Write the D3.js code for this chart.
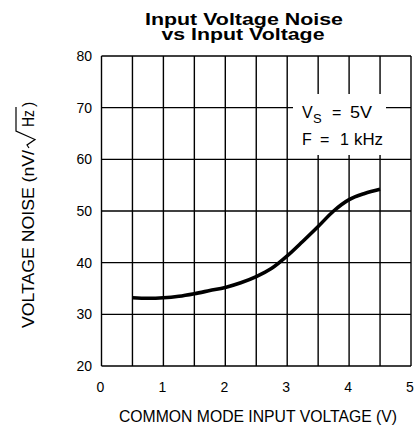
<!DOCTYPE html>
<html><head><meta charset="utf-8">
<script src="https://cdn.jsdelivr.net/npm/d3@7"></script>
<style>body{margin:0;background:#fff}svg{display:block}text{font-family:"Liberation Sans",Arial,sans-serif;fill:#000}</style>
</head><body><svg id="c" width="417" height="431"></svg>
<script>
const titleLines = ["Input Voltage Noise", "vs Input Voltage"];
const xLabel = "COMMON MODE INPUT VOLTAGE (V)";
const yLabelMain = "VOLTAGE NOISE (nV/";
const yLabelUnit = "Hz";
const xTicks = [0, 1, 2, 3, 4, 5];
const yTicks = [20, 30, 40, 50, 60, 70, 80];
const xGrid = [0, 0.5, 1, 1.5, 2, 2.5, 3, 3.5, 4, 4.5, 5];
const cmVoltage = [0.5, 0.75, 1, 1.25, 1.5, 1.75, 2, 2.25, 2.5, 2.75, 3, 3.25, 3.5, 3.75, 4, 4.25, 4.5];
const noise =     [33.2, 33.1, 33.2, 33.5, 34.0, 34.6, 35.2, 36.1, 37.3, 38.9, 41.3, 44.1, 47.0, 50.0, 52.2, 53.4, 54.2];

const svg = d3.select("#c");
const L = 101.5, R = 411, T = 56, B = 366;
const x = d3.scaleLinear().domain([0, 5]).range([L, R]);
const y = d3.scaleLinear().domain([20, 80]).range([B, T]);

// title (one text, two lines)
const tt = svg.append("text").attr("text-anchor", "middle").attr("font-weight", "bold").attr("font-size", 17);
tt.append("tspan").attr("x", 244).attr("y", 24.5).attr("textLength", 198).attr("lengthAdjust", "spacingAndGlyphs").text(titleLines[0]);
tt.append("tspan").attr("x", 243).attr("y", 40).attr("textLength", 163).attr("lengthAdjust", "spacingAndGlyphs").text(titleLines[1]);

// grid
const g = svg.append("g").attr("stroke", "#000").attr("stroke-width", 1.4);
xGrid.forEach(v => g.append("line").attr("x1", x(v)).attr("x2", x(v)).attr("y1", T).attr("y2", B));
yTicks.forEach(v => g.append("line").attr("x1", L).attr("x2", R).attr("y1", y(v)).attr("y2", y(v)));

// annotation box (white background over grid)
const bx0 = 293, bx1 = 386, by0 = 94, by1 = 155;
svg.append("rect").attr("x", bx0).attr("y", by0).attr("width", bx1 - bx0).attr("height", by1 - by0).attr("fill", "#fff");
const ann = svg.append("g").attr("font-size", 16);
ann.append("text").attr("x", 302).attr("y", 117.5).text("V");
ann.append("text").attr("x", 313).attr("y", 123).attr("font-size", 13).text("S");
ann.append("text").attr("x", 332).attr("y", 117.5).text("=");
ann.append("text").attr("x", 350).attr("y", 117.5).attr("textLength", 22).attr("lengthAdjust", "spacingAndGlyphs").text("5V");
ann.append("text").attr("x", 302).attr("y", 144.5).text("F");
ann.append("text").attr("x", 320).attr("y", 144.5).text("=");
ann.append("text").attr("x", 340).attr("y", 144.5).attr("textLength", 9).text("1");
ann.append("text").attr("x", 354).attr("y", 144.5).attr("textLength", 29).attr("lengthAdjust", "spacingAndGlyphs").text("kHz");

// curve
const line = d3.line().x((d, i) => x(cmVoltage[i])).y(d => y(d)).curve(d3.curveMonotoneX);
svg.append("path").attr("d", line(noise)).attr("fill", "none").attr("stroke", "#000")
  .attr("stroke-width", 3.6).attr("stroke-linecap", "butt");

// tick labels
svg.append("g").selectAll("text").data(yTicks).join("text")
  .attr("x", 92).attr("y", d => y(d) + 5).attr("text-anchor", "end").attr("font-size", 14).text(d => d);
svg.append("g").selectAll("text").data(xTicks).join("text")
  .attr("x", d => x(d) - 1).attr("y", 392).attr("text-anchor", "middle").attr("font-size", 14).text(d => d);

// x label
svg.append("text").attr("x", 119).attr("y", 422).attr("font-size", 16.5)
  .attr("textLength", 278).attr("lengthAdjust", "spacingAndGlyphs").text(xLabel);

// y label (rotated), with drawn radical
const yg = svg.append("g").attr("transform", "translate(34,328) rotate(-90)");
yg.append("text").attr("x", 0).attr("y", 0).attr("font-size", 16)
  .attr("textLength", 178).attr("lengthAdjust", "spacingAndGlyphs").text(yLabelMain);
yg.append("path").attr("d", "M180,-5 L183,-7 L188.5,1 L197,-18 L221,-18")
  .attr("fill", "none").attr("stroke", "#000").attr("stroke-width", 1.2);
yg.append("text").attr("x", 201).attr("y", 0).attr("font-size", 16)
  .attr("textLength", 17).attr("lengthAdjust", "spacingAndGlyphs").text(yLabelUnit);
yg.append("text").attr("x", 221).attr("y", 0).attr("font-size", 16).text(")");
</script></body></html>
